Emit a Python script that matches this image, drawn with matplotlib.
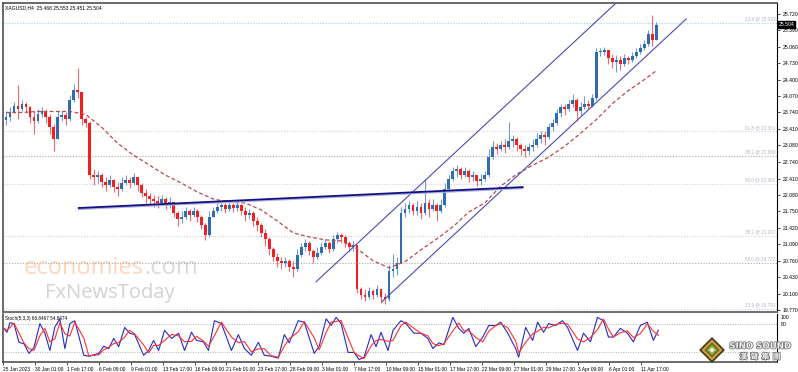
import matplotlib
matplotlib.use("Agg")
import matplotlib.pyplot as plt
import matplotlib.patheffects as pe
from matplotlib.patches import Polygon
import numpy as np
import pandas as pd

# XAGUSD H4 candles (one candle here = two H4 bars of the screenshot)
close = [23.64, 23.74, 23.88, 23.80, 23.92, 23.84, 23.64, 23.56, 23.70, 23.76,
         23.64, 23.44, 23.20, 23.64, 23.68, 23.60, 24.00, 24.20, 24.16, 23.60,
         23.52, 22.48, 22.44, 22.48, 22.34, 22.28, 22.38, 22.24, 22.20, 22.32,
         22.38, 22.32, 22.44, 22.28, 22.12, 22.06, 22.00, 21.96, 21.92, 22.00,
         21.90, 21.94, 21.72, 21.60, 21.64, 21.76, 21.68, 21.76, 21.64, 21.48,
         21.28, 21.64, 21.76, 21.84, 21.88, 21.80, 21.88, 21.82, 21.88, 21.76,
         21.68, 21.72, 21.56, 21.48, 21.32, 21.20, 21.00, 20.84, 20.76, 20.72,
         20.76, 20.64, 20.60, 20.88, 21.04, 21.12, 20.96, 20.84, 20.92, 21.04,
         21.12, 21.00, 21.20, 21.28, 21.24, 21.12, 21.04, 21.08, 20.20, 20.08,
         20.04, 20.16, 20.08, 20.20, 20.04, 20.00, 20.56, 20.60, 20.72, 21.72,
         21.80, 21.88, 21.76, 21.84, 21.72, 21.92, 21.80, 21.88, 21.76, 21.88,
         22.20, 22.40, 22.56, 22.60, 22.48, 22.56, 22.44, 22.48, 22.36, 22.40,
         22.48, 22.84, 23.04, 23.00, 23.08, 23.04, 23.16, 23.20, 23.08, 23.00,
         22.96, 23.04, 23.08, 23.20, 23.28, 23.24, 23.44, 23.52, 23.72, 23.84,
         23.80, 23.92, 24.00, 23.76, 23.84, 23.92, 23.88, 24.04, 24.96, 24.96,
         25.00, 24.84, 24.76, 24.80, 24.72, 24.84, 24.80, 24.88, 24.96, 25.04,
         25.12, 25.32, 25.20, 25.50]
high = [23.76, 23.84, 23.96, 24.30, 24.00, 23.96, 23.88, 23.76, 23.80, 23.84,
        23.80, 23.70, 23.50, 23.76, 23.76, 23.74, 24.10, 24.32, 24.64, 24.10,
        23.64, 23.56, 22.60, 22.56, 22.52, 22.44, 22.48, 22.40, 22.34, 22.44,
        22.48, 22.44, 22.52, 22.44, 22.32, 22.20, 22.12, 22.08, 22.06, 22.08,
        22.04, 22.04, 21.94, 21.76, 21.76, 21.84, 21.80, 21.84, 21.80, 21.68,
        21.52, 21.76, 21.84, 21.92, 21.94, 21.92, 21.96, 21.92, 21.96, 21.90,
        21.84, 21.80, 21.76, 21.64, 21.52, 21.40, 21.24, 21.04, 20.92, 20.84,
        20.84, 20.80, 20.76, 21.00, 21.12, 21.20, 21.16, 21.00, 21.04, 21.12,
        21.20, 21.16, 21.28, 21.34, 21.32, 21.28, 21.16, 21.16, 21.08, 20.24,
        20.20, 20.24, 20.20, 20.28, 20.20, 20.12, 20.68, 20.90, 20.84, 21.84,
        21.92, 21.96, 21.92, 21.96, 21.92, 22.40, 22.00, 22.00, 21.92, 22.00,
        22.32, 22.48, 22.64, 22.68, 22.64, 22.64, 22.60, 22.56, 22.48, 22.50,
        22.56, 23.00, 23.16, 23.12, 23.16, 23.20, 23.54, 23.28, 23.24, 23.12,
        23.08, 23.12, 23.20, 23.32, 23.36, 23.36, 23.52, 23.60, 23.80, 23.92,
        23.92, 24.00, 24.12, 24.04, 23.96, 24.08, 24.00, 24.12, 25.04, 25.04,
        25.06, 25.00, 24.92, 24.90, 24.88, 24.92, 24.88, 24.96, 25.04, 25.12,
        25.20, 25.40, 25.70, 25.56]
low = [23.48, 23.56, 23.72, 23.60, 23.76, 23.72, 23.52, 23.30, 23.52, 23.64,
       23.52, 23.30, 22.96, 23.20, 23.56, 23.48, 23.56, 23.96, 24.04, 23.48,
       23.44, 22.40, 22.28, 22.32, 22.24, 22.16, 22.24, 22.14, 22.06, 22.16,
       22.28, 22.22, 22.28, 22.16, 22.04, 21.92, 21.88, 21.84, 21.82, 21.88,
       21.80, 21.82, 21.64, 21.46, 21.52, 21.60, 21.56, 21.64, 21.54, 21.40,
       21.18, 21.24, 21.64, 21.72, 21.76, 21.72, 21.76, 21.74, 21.76, 21.68,
       21.56, 21.60, 21.46, 21.36, 21.24, 21.06, 20.88, 20.76, 20.64, 20.60,
       20.64, 20.56, 20.44, 20.56, 20.84, 20.96, 20.88, 20.72, 20.80, 20.88,
       21.00, 20.92, 20.96, 21.12, 21.12, 21.04, 20.96, 20.96, 20.12, 20.00,
       19.96, 20.00, 20.00, 20.04, 19.92, 19.90, 19.96, 20.44, 20.48, 20.72,
       21.64, 21.72, 21.68, 21.68, 21.60, 21.68, 21.64, 21.76, 21.56, 21.72,
       21.84, 22.16, 22.36, 22.44, 22.40, 22.44, 22.34, 22.36, 22.26, 22.28,
       22.36, 22.44, 22.80, 22.90, 22.96, 22.92, 23.00, 23.04, 22.96, 22.88,
       22.84, 22.88, 22.96, 23.04, 23.12, 23.08, 23.20, 23.36, 23.48, 23.64,
       23.68, 23.76, 23.84, 23.56, 23.68, 23.80, 23.80, 23.84, 24.00, 24.88,
       24.90, 24.72, 24.64, 24.56, 24.60, 24.68, 24.72, 24.76, 24.84, 24.92,
       25.00, 25.08, 25.08, 25.32]
first_open = 23.58

# moving average, read every 4 candles
ma_idx = list(range(0, 161, 4)) + [163]
ma = [23.74, 23.74, 23.76, 23.76, 23.76, 23.70, 23.44, 23.12, 22.88, 22.68,
      22.48, 22.32, 22.14, 22.00, 21.94, 21.92, 21.78, 21.56, 21.32, 21.24,
      21.18, 21.16, 21.00, 20.76, 20.62, 20.74, 20.98, 21.20, 21.44, 21.74,
      21.92, 22.26, 22.50, 22.68, 22.84, 23.06, 23.32, 23.60, 23.92, 24.18,
      24.40, 24.58]

# stochastic %K (position in candles, value)
stoch_pos = [-0.5, 0.25, 1, 2, 3.25, 4.5, 5.75, 7, 8.5, 9.75, 11, 12.25, 13.5,
             14.75, 16, 17.25, 19.5, 20.75, 23.25, 24.5, 25.75, 27, 28.25,
             29.75, 31, 32.25, 34.5, 35.75, 37, 38.25, 39.75, 41.5, 43.25,
             44.75, 46.5, 47.75, 49.5, 50.75, 52.25, 54, 56.5, 58.25, 59.75,
             61.5, 63.25, 64.75, 66.5, 68.25, 69.75, 71, 73.25, 74.75, 77.25,
             78.5, 80.25, 81.5, 82.75, 84, 85.75, 87.25, 88.5, 89.75, 91.5,
             92.75, 94, 95.75, 97, 99, 100.25, 102.25, 104, 105.75, 107, 108.5,
             109.75, 112, 113.5, 114.75, 116, 117.75, 119.5, 121, 122.75, 124,
             125.75, 127.75, 128.5, 130.25, 132, 133.25, 134.75, 136, 137.75,
             139.5, 140.75, 143.25, 144.75, 146.5, 148.25, 149.75, 151, 152.25,
             154, 155.75, 157.25, 159, 160.75, 162.25, 163.5]
stoch_k = [70, 62, 82, 80, 41, 38, 18, 30, 80, 60, 24, 73, 90, 28, 80, 86, 14,
           12, 18, 33, 28, 49, 32, 72, 60, 57, 14, 24, 45, 24, 66, 49, 60, 24,
           62, 45, 42, 24, 86, 80, 24, 57, 28, 14, 41, 14, 12, 8, 57, 40, 86,
           83, 18, 33, 90, 76, 93, 80, 20, 20, 5, 10, 57, 32, 62, 24, 66, 86,
           80, 60, 60, 49, 28, 40, 36, 93, 70, 60, 70, 32, 52, 76, 76, 83, 60,
           28, 10, 72, 45, 83, 62, 80, 76, 86, 72, 24, 60, 42, 93, 86, 52, 52,
           70, 60, 42, 76, 83, 45, 66]

price_ticks = [25.720, 25.390, 25.060, 24.730, 24.400, 24.070, 23.740, 23.410,
               23.080, 22.740, 22.410, 22.080, 21.750, 21.420, 21.090, 20.760,
               20.430, 20.100, 19.770]
time_labels = ["25 Jan 2023", "30 Jan 01:00", "1 Feb 17:00", "6 Feb 09:00",
               "9 Feb 01:00", "13 Feb 17:00", "16 Feb 09:00", "21 Feb 01:00",
               "23 Feb 17:00", "28 Feb 09:00", "3 Mar 01:00", "7 Mar 17:00",
               "10 Mar 09:00", "15 Mar 01:00", "17 Mar 17:00", "22 Mar 09:00",
               "27 Mar 01:00", "29 Mar 17:00", "3 Apr 09:00", "6 Apr 01:00",
               "11 Apr 17:00"]

fib_prices = [25.533, 23.361, 22.868, 22.301, 21.267, 20.722, 19.791]
fib_labels = ["23.6 @ 25.533", "61.8 @ 23.361", "38.2 @ 22.868", "50.0 @ 22.301",
              "38.2 @ 21.267", "50.0 @ 20.722", "23.6 @ 19.791"]
fib_colors = ["#9fd6e0", "#cfcfdf", "#a8a8a8", "#cfcfdf", "#cfcfdf", "#a8a8a8", "#cfcfe8"]

channel_lower = [(94.25, 19.94), (170.5, 25.62)]
channel_upper = [(77.75, 20.34), (170.5, 27.25)]
trend_line = [(18.25, 21.82), (129.5, 22.24)]

W, H = 798, 372


def rect(x0, y0, x1, y1):
    return [x0 / W, 1 - y1 / H, (x1 - x0) / W, (y1 - y0) / H]


plt.rcParams["font.family"] = ["Liberation Sans", "DejaVu Sans"]
fig = plt.figure(figsize=(W / 100, H / 100), dpi=100, facecolor="white")

# background layer for watermark, in pixel coordinates
bg = fig.add_axes([0, 0, 1, 1], zorder=0)
bg.set_xlim(0, W)
bg.set_ylim(H, 0)
bg.axis("off")

ax = fig.add_axes(rect(3, 3, 777, 312), zorder=1)
ax2 = fig.add_axes(rect(3, 314, 777, 362), zorder=1, sharex=ax)
for a in (ax, ax2):
    a.set_facecolor("none")

# watermark
t1 = bg.text(24, 274, "economies", fontsize=17, color="#fdd6bc", family="Open Sans")
fig.canvas.draw()
bb = t1.get_window_extent()
bg.text(24 + bb.width, 274, ".com", fontsize=17, color="#dadada", family="Open Sans")
bg.text(45, 298, "FxNewsToday", fontsize=14.5, color="#d2d2d2", family="Open Sans")

# candles
idx = np.arange(len(close))
opn = np.array([first_open] + close[:-1])
cls = np.array(close)
hi = np.maximum(np.array(high), np.maximum(opn, cls))
lo = np.minimum(np.array(low), np.minimum(opn, cls))
bull = cls >= opn
col = np.where(bull, "#2f6db0", "#f02020")
wick = np.where(bull, "#6f9ccc", "#f06a6a")
ax.vlines(idx, lo, hi, colors=wick, lw=0.8, zorder=3)
body_lo = np.minimum(opn, cls)
body_h = np.maximum(np.abs(cls - opn), 0.015)
ax.bar(idx, body_h, bottom=body_lo, width=0.7, color=col, linewidth=0, zorder=4)

# moving average
ax.plot(ma_idx, ma, color="#b84a4a", lw=0.9, ls=(0, (3, 2)), zorder=5)

# fibonacci levels
for p, lab, c in zip(fib_prices, fib_labels, fib_colors):
    ax.axhline(p, color=c, lw=0.8, ls=(0, (1, 1.5)), zorder=2)
    ax.text(192.9, p + 0.03, lab, ha="right", va="bottom", fontsize=3.3, color="#b4b4c4", zorder=2)

# channel and trend line
ax.plot(*zip(*channel_lower), color="#4a4ab8", lw=0.8, zorder=6)
ax.plot(*zip(*channel_upper), color="#4a4ab8", lw=0.8, zorder=6)
tx, ty = zip(*trend_line)
ax.plot(tx, np.array(ty) - 0.025, color="#b0b0e0", lw=1.2, zorder=6)
ax.plot(tx, ty, color="#101080", lw=1.3, zorder=7)

ax.set_xlim(-0.25, 193.25)
ax.set_ylim(19.73, 25.94)
ax.yaxis.tick_right()
ax.set_yticks(price_ticks)
ax.set_yticklabels([f"{v:.3f}" for v in price_ticks], fontsize=3.7)
ax.tick_params(axis="y", length=2.5, width=0.5, pad=1.5, colors="black")
ax.tick_params(axis="x", bottom=False, labelbottom=False)
for s in ("left", "top"):
    ax.spines[s].set_color("#505050")
    ax.spines[s].set_linewidth(1.2)
ax.spines["right"].set_linewidth(0.8)
ax.spines["bottom"].set_color("#707070")
ax.spines["bottom"].set_linewidth(1.5)

ax.text(0.003, 0.993, "XAGUSD,H4  25.468 25.553 25.451 25.504", transform=ax.transAxes,
        ha="left", va="top", fontsize=3.6, color="black")
ax.annotate("25.504", xy=(1.002, 25.504), xycoords=("axes fraction", "data"),
            ha="left", va="center", fontsize=3.7, color="white",
            bbox=dict(boxstyle="square,pad=0.2", fc="black", ec="black"), zorder=10,
            annotation_clip=False)

# stochastic panel
stoch_d = pd.Series(stoch_k).rolling(2, min_periods=1).mean()
ax2.axhline(80, color="#b0b0b0", lw=0.7, ls=(0, (1, 1.5)))
ax2.axhline(20, color="#b0b0b0", lw=0.7, ls=(0, (1, 1.5)))
ax2.plot(stoch_pos, stoch_k, color="#2a2ac0", lw=0.8)
ax2.plot(stoch_pos, stoch_d, color="#ff3030", lw=0.8)
ax2.set_ylim(0, 100)
ax2.set_yticks([])
ax2.text(1.005, 0.93, "100", transform=ax2.transAxes, fontsize=3.7, va="center")
ax2.text(1.005, 0.79, "80", transform=ax2.transAxes, fontsize=3.7, va="center")
ax2.text(0.002, 0.96, "Stoch(5,3,3) 66.8467 54.8474", transform=ax2.transAxes,
         ha="left", va="top", fontsize=3.3, color="black")
tick_pos = [-0.75 + 8 * k for k in range(len(time_labels))]
ax2.set_xticks(tick_pos)
ax2.set_xticklabels(time_labels, ha="left", fontsize=3.5)
ax2.tick_params(axis="x", length=2, width=0.5, pad=1.5)
for s in ("left", "bottom"):
    ax2.spines[s].set_color("#505050")
    ax2.spines[s].set_linewidth(1.2)
ax2.spines["top"].set_visible(False)
ax2.spines["right"].set_linewidth(0.8)

# SINO SOUND logo
top = fig.add_axes([0, 0, 1, 1], zorder=5)
top.set_xlim(0, W)
top.set_ylim(H, 0)
top.axis("off")
cx, cy = 712, 350
for r, c in [(13, "#4a3c12"), (10.5, "#c9a24a"), (7.5, "#6a5a20"), (5.5, "#86b040"), (2.8, "#eef2e0")]:
    top.add_patch(Polygon([(cx, cy - r), (cx + r, cy), (cx, cy + r), (cx - r, cy)], closed=True,
                          fc=c, ec="none"))
stroke = [pe.withStroke(linewidth=1.1, foreground="#707070")]
top.text(760, 346, "SINO SOUND", fontsize=6.2, fontweight="bold", color="#f0f0f0",
         ha="center", va="center", family="DejaVu Sans", path_effects=stroke)
top.text(760, 356.5, "漢  聲  集  團", fontsize=5.5, fontweight="bold", color="#f0f0f0",
         ha="center", va="center", family=["Noto Sans CJK TC", "DejaVu Sans"], path_effects=stroke)

fig.savefig("out.png", dpi=100)
